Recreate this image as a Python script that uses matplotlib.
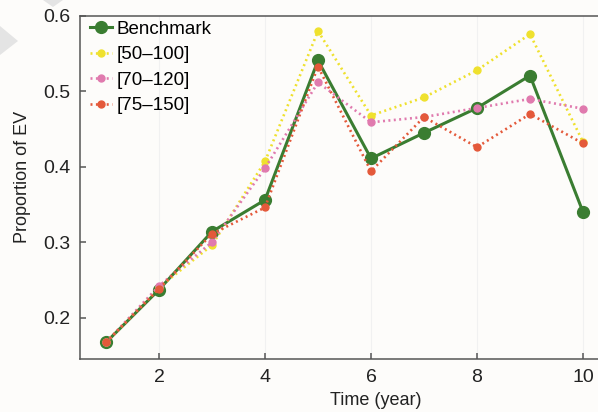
import matplotlib
matplotlib.use("Agg")
import matplotlib.pyplot as plt
from matplotlib.patches import Polygon

plt.rcParams["font.family"] = ["Liberation Sans", "DejaVu Sans"]

years = [1, 2, 3, 4, 5, 6, 7, 8, 9, 10]
benchmark = [0.167, 0.237, 0.314, 0.356, 0.541, 0.411, 0.445, 0.478, 0.521, 0.340]
range_50_100 = [0.167, 0.240, 0.296, 0.407, 0.580, 0.468, 0.492, 0.528, 0.576, 0.433]
range_70_120 = [0.167, 0.242, 0.300, 0.398, 0.512, 0.459, 0.466, 0.478, 0.490, 0.477]
range_75_150 = [0.167, 0.238, 0.311, 0.346, 0.533, 0.394, 0.466, 0.426, 0.470, 0.431]

x_ticks = [2, 4, 6, 8, 10]
y_ticks = [0.2, 0.3, 0.4, 0.5, 0.6]

fig = plt.figure(figsize=(5.98, 4.12), dpi=100)
fig.patch.set_facecolor("#fdfcfa")

# faint grey marks in the top-left corner
fig.patches.append(Polygon([(43 / 598, 1), (63 / 598, 1), (53 / 598, 1 - 7 / 412)],
                           closed=True, transform=fig.transFigure,
                           facecolor="#e4e4e4", edgecolor="none"))
fig.patches.append(Polygon([(0, 1 - 26 / 412), (18 / 598, 1 - 41 / 412), (0, 1 - 55 / 412)],
                           closed=True, transform=fig.transFigure,
                           facecolor="#e4e4e4", edgecolor="none"))

ax = fig.add_axes([79.5 / 598, 53 / 412, 530 / 598, 343 / 412])
ax.set_facecolor("#fdfcfa")

dots = (0, (0.75, 1.3))
ax.plot(years, benchmark, color="#3a7d31", lw=2.2, marker="o", ms=8.5,
        label="Benchmark", zorder=3)
ax.plot(years, range_50_100, color="#efe12e", lw=1.9, ls=dots, marker="o", ms=5,
        label="[50\u2013100]", zorder=4)
ax.plot(years, range_70_120, color="#e07aae", lw=1.9, ls=dots, marker="o", ms=5,
        label="[70\u2013120]", zorder=5)
ax.plot(years, range_75_150, color="#e4593a", lw=1.9, ls=dots, marker="o", ms=5,
        label="[75\u2013150]", zorder=6)

ax.set_xlim(0.5, 10.5)
ax.set_ylim(0.145, 0.6)
ax.set_xticks(x_ticks)
ax.set_yticks(y_ticks)
ax.set_yticklabels(["0.2", "0.3", "0.4", "0.5", "0.6"])
ax.grid(axis="x", color="#f1f1f1", lw=0.8)
ax.set_axisbelow(True)

for side in ["left", "bottom", "top", "right"]:
    ax.spines[side].set_color("#555555")
    ax.spines[side].set_linewidth(1.1)

ax.tick_params(axis="both", direction="in", length=4.5, width=1.1,
               color="#555555", labelsize=14, labelcolor="#222222")
ax.tick_params(axis="y", pad=6.5)
ax.tick_params(axis="x", pad=7.5)

ax.set_ylabel("Proportion of EV", fontsize=13, color="#222222")
ax.yaxis.set_label_coords(-0.091, 0.53)
ax.set_xlabel("Time (year)", fontsize=13, color="#222222")
ax.xaxis.set_label_coords((376 - 79.5) / 530, -0.097)

ax.legend(loc="upper left", frameon=False, fontsize=13.5, handlelength=1.17,
          handletextpad=0.25, labelspacing=0.45, borderaxespad=0, borderpad=0.15,
          bbox_to_anchor=(0.0145, 0.995))

fig.savefig("out.png", dpi=100, facecolor=fig.get_facecolor())
